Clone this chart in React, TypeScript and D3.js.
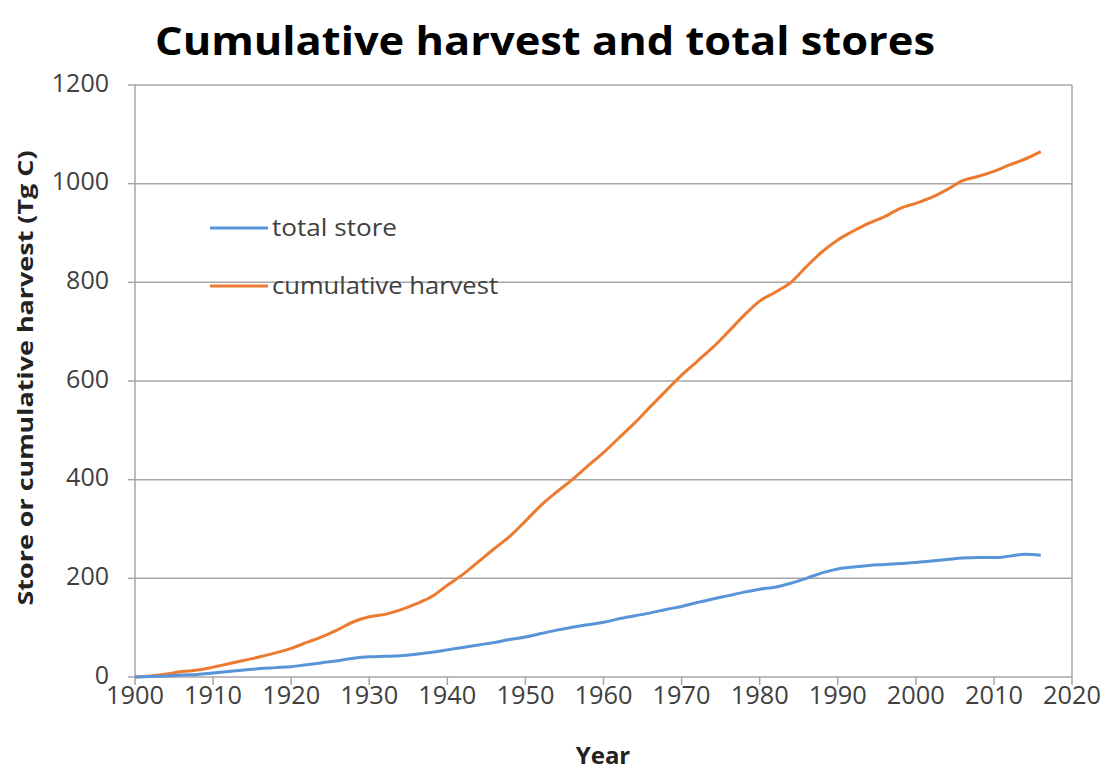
import React from "react";
import * as d3 from "d3";

const years = [1900,1902,1904,1906,1908,1910,1912,1914,1916,1918,1920,1922,1924,1926,1928,1930,1932,1934,1936,1938,1940,1942,1944,1946,1948,1950,1952,1954,1956,1958,1960,1962,1964,1966,1968,1970,1972,1974,1976,1978,1980,1982,1984,1986,1988,1990,1992,1994,1996,1998,2000,2002,2004,2006,2008,2010,2012,2014,2016];
const cumulativeHarvest = [0,2,6,11,14,20,27,34,41,49,58,70,82,96,112,122,127,136,148,163,186,208,234,260,285,316,348,375,400,428,455,485,515,548,580,612,640,668,700,733,762,780,800,832,862,886,904,920,933,950,960,972,988,1006,1015,1025,1038,1050,1065];
const totalStore = [0,1,2,4,5,8,11,14,17,19,21,25,29,33,38,41,42,43,46,50,55,60,65,70,76,81,88,95,101,106,111,118,124,130,137,143,151,158,165,172,178,182,190,200,211,219,223,226,228,230,232,235,238,241,242,242,245,249,247];
const xTicks = [1900,1910,1920,1930,1940,1950,1960,1970,1980,1990,2000,2010,2020];
const yTicks = [0,200,400,600,800,1000,1200];
const seriesNames = ["total store", "cumulative harvest"];
const seriesColors = ["#5794d8", "#ec7a2f"];

export default function App() {
  const W = 1105, H = 772;
  const left = 135, right = 1072, top = 85, bottom = 677;
  const x = d3.scaleLinear().domain([1900, 2020]).range([left, right]);
  const y = d3.scaleLinear().domain([0, 1200]).range([bottom, top]);
  const line = d3.line<[number, number]>().x(d => x(d[0])).y(d => y(d[1])).curve(d3.curveMonotoneX);
  const storePts = years.map((yr, i) => [yr, totalStore[i]] as [number, number]);
  const harvestPts = years.map((yr, i) => [yr, cumulativeHarvest[i]] as [number, number]);
  const font = "'Open Sans', sans-serif";
  const grid = "#a6a6a6";
  const legendLens = [125, 226];
  return (
    <svg width={W} height={H} style={{ position: "absolute", left: 0, top: 0, background: "#fff" }} fontFamily={font}>
      <rect width={W} height={H} fill="#fff" />
      <text x={545} y={55} textAnchor="middle" fontSize={40} fontWeight="bold" fill="#000" textLength={780} lengthAdjust="spacingAndGlyphs">Cumulative harvest and total stores</text>
      {yTicks.map(t => (
        <g key={t}>
          {t > 0 && <line x1={left} x2={right} y1={y(t)} y2={y(t)} stroke={grid} strokeWidth={1.5} />}
          <line x1={left - 7} x2={left} y1={y(t)} y2={y(t)} stroke={grid} strokeWidth={1.5} />
          <text x={109} y={y(t) - 2} dy="0.35em" textAnchor="end" fontSize={25} fill="#404040">{t}</text>
        </g>
      ))}
      <line x1={left} x2={left} y1={top} y2={bottom} stroke={grid} strokeWidth={1.5} />
      <line x1={right} x2={right} y1={top} y2={bottom} stroke={grid} strokeWidth={1.5} />
      <line x1={left} x2={right} y1={bottom} y2={bottom} stroke={grid} strokeWidth={1.5} />
      {xTicks.map(t => (
        <g key={t}>
          <line x1={x(t)} x2={x(t)} y1={bottom} y2={bottom + 8} stroke={grid} strokeWidth={1.5} />
          <text x={x(t)} y={704} textAnchor="middle" fontSize={25} fill="#404040" textLength={58} lengthAdjust="spacingAndGlyphs">{t}</text>
        </g>
      ))}
      <path d={line(harvestPts) || ""} fill="none" stroke={seriesColors[1]} strokeWidth={3} strokeLinejoin="round" />
      <path d={line(storePts) || ""} fill="none" stroke={seriesColors[0]} strokeWidth={3} strokeLinejoin="round" />
      {seriesNames.map((n, i) => (
        <g key={n}>
          <line x1={210} x2={268} y1={228 + i * 58} y2={228 + i * 58} stroke={seriesColors[i]} strokeWidth={3} />
          <text x={272} y={228 + i * 58} dy="0.35em" fontSize={24} fill="#404040" textLength={legendLens[i]} lengthAdjust="spacingAndGlyphs">{n}</text>
        </g>
      ))}
      <text x={603} y={764} textAnchor="middle" fontSize={24} fontWeight="bold" fill="#222">Year</text>
      <text transform={`translate(33,378) rotate(-90)`} textAnchor="middle" fontSize={22} fontWeight="bold" fill="#222" textLength={455} lengthAdjust="spacingAndGlyphs">Store or cumulative harvest (Tg C)</text>
    </svg>
  );
}
